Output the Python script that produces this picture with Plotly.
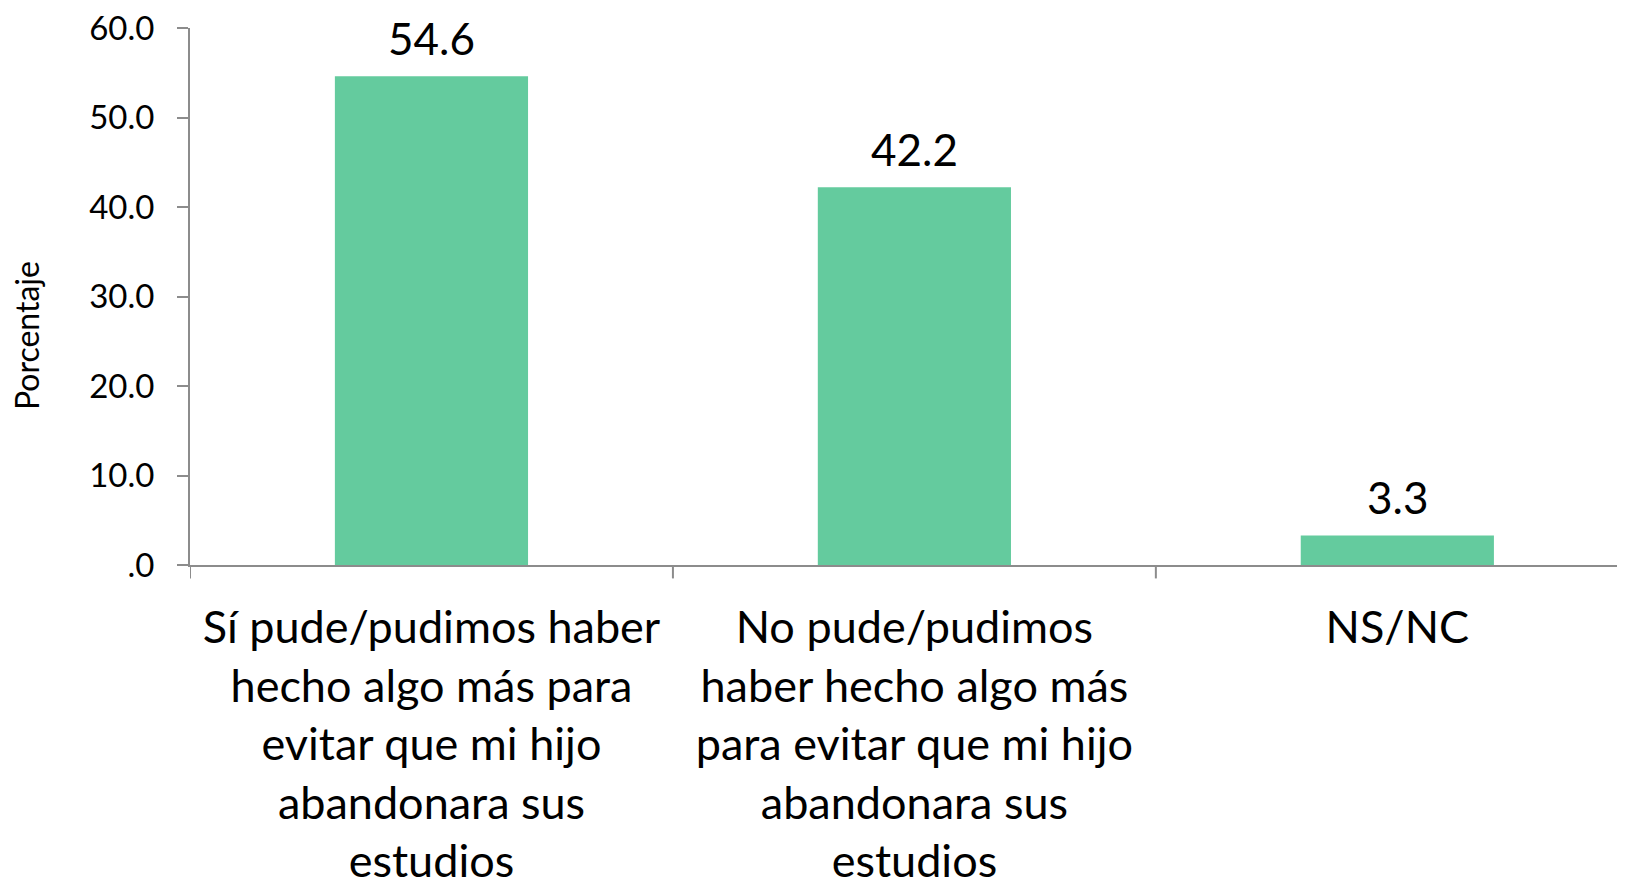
import plotly.graph_objects as go

categorias = [
    "Sí pude/pudimos haber<br>hecho algo más para<br>evitar que mi hijo<br>abandonara sus<br>estudios",
    "No pude/pudimos<br>haber hecho algo más<br>para evitar que mi hijo<br>abandonara sus<br>estudios",
    "NS/NC",
]
porcentajes = [54.6, 42.2, 3.3]
etiquetas = ["54.6", "42.2", "3.3"]
ticks_y = [0, 10, 20, 30, 40, 50, 60]
ticks_y_txt = [".0", "10.0", "20.0", "30.0", "40.0", "50.0", "60.0"]

fuente = "Lato, 'Open Sans', sans-serif"
gris = "#8c8c8c"

fig = go.Figure()
fig.add_trace(go.Bar(
    x=[0, 1, 2],
    y=porcentajes,
    width=0.4,
    marker=dict(color="#64CB9E", line=dict(width=0)),
    cliponaxis=False,
))

# etiquetas de valor sobre las barras
for i, (v, t) in enumerate(zip(porcentajes, etiquetas)):
    fig.add_annotation(x=i, y=v, text=t, showarrow=False, yanchor="bottom",
                       yshift=10, font=dict(size=44, color="#000000", family=fuente))

# título del eje y como anotación (desplazado hacia abajo como en el original)
fig.add_annotation(xref="paper", yref="paper", x=-0.1137, y=0.428, text="Porcentaje",
                   textangle=-90, showarrow=False, xanchor="center", yanchor="middle",
                   font=dict(size=32, color="#000000", family=fuente))

fig.update_layout(
    width=1625, height=881,
    margin=dict(l=182, r=0, t=20, b=324),
    plot_bgcolor="white", paper_bgcolor="white",
    showlegend=False,
    font=dict(family=fuente, color="#000000"),
    xaxis=dict(
        range=[-0.5, 2.488],
        tickmode="array", tickvals=[0, 1, 2], ticktext=categorias,
        tickfont=dict(size=45, color="#000000"),
        showline=True, linecolor=gris, linewidth=2,
        showgrid=False, zeroline=False,
        ticks="", ticklen=0, ticklabelstandoff=22,
        ticklabeloverflow="allow",
        automargin=False,
    ),
    yaxis=dict(
        range=[0, 60],
        tickmode="array", tickvals=ticks_y, ticktext=ticks_y_txt,
        tickfont=dict(size=33, color="#000000"),
        ticks="outside", ticklen=11, tickcolor=gris, tickwidth=2,
        ticklabelstandoff=16,
        ticklabeloverflow="allow",
        showline=True, linecolor=gris, linewidth=2,
        showgrid=False, zeroline=False,
        automargin=False,
    ),
)

# marcas de separación entre categorías en el eje x
for xv in [-0.5, 0.5, 1.5]:
    fig.add_shape(type="line", xref="x", yref="paper", x0=xv, x1=xv, y0=0, y1=-0.025,
                  line=dict(color=gris, width=2))

fig.write_html("out.html")
